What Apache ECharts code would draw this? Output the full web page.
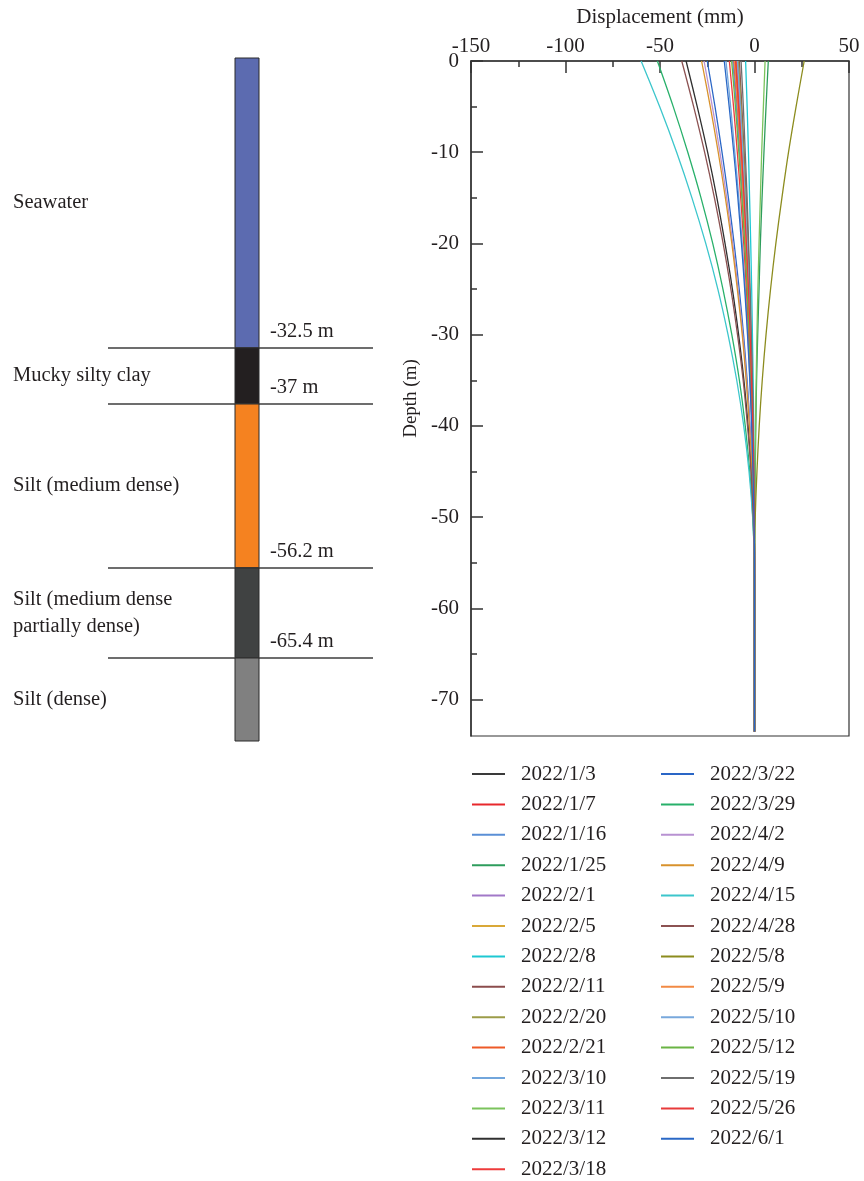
<!DOCTYPE html>
<html>
<head>
<meta charset="utf-8">
<title>Inclinometer displacement profiles</title>
<script src="https://cdn.jsdelivr.net/npm/echarts@6/dist/echarts.min.js"></script>
<style>
  html, body { margin: 0; padding: 0; background: #fff; }
  #chart { width: 864px; height: 1181px; }
</style>
</head>
<body>
<div id="chart"></div>
<script>
// Measurement depths (m)
const depths = [0, -5, -10, -15, -20, -25, -30, -35, -40, -45, -50, -55, -60, -65, -70, -73.5];

// Survey dates
const surveyDates = [
  '2022/1/3', '2022/1/7', '2022/1/16', '2022/1/25', '2022/2/1', '2022/2/5', '2022/2/8',
  '2022/2/11', '2022/2/20', '2022/2/21', '2022/3/10', '2022/3/11', '2022/3/12', '2022/3/18',
  '2022/3/22', '2022/3/29', '2022/4/2', '2022/4/9', '2022/4/15', '2022/4/28', '2022/5/8',
  '2022/5/9', '2022/5/10', '2022/5/12', '2022/5/19', '2022/5/26', '2022/6/1'
];

// Horizontal displacement (mm) at each depth, one array per survey
const disp_0103 = [-8.9, -7.4, -6.1, -4.9, -3.8, -2.9, -2.1, -1.4, -0.8, -0.4, -0.2, 0, 0, 0, 0, 0];
const disp_0107 = [-11.0, -9.2, -7.5, -6.1, -4.7, -3.6, -2.6, -1.7, -1.0, -0.5, -0.2, 0, 0, 0, 0, 0];
const disp_0116 = [-11.5, -9.6, -7.9, -6.3, -4.9, -3.7, -2.7, -1.8, -1.1, -0.6, -0.2, 0, 0, 0, 0, 0];
const disp_0125 = [7.3, 6.1, 5.0, 4.0, 3.1, 2.4, 1.7, 1.1, 0.7, 0.4, 0.1, 0, 0, 0, 0, 0];
const disp_0201 = [-9.5, -7.9, -6.5, -5.2, -4.1, -3.1, -2.2, -1.5, -0.9, -0.5, -0.2, 0, 0, 0, 0, 0];
const disp_0205 = [-10.2, -8.5, -7.0, -5.6, -4.4, -3.3, -2.4, -1.6, -1.0, -0.5, -0.2, 0, 0, 0, 0, 0];
const disp_0208 = [-4.7, -3.9, -3.2, -2.6, -2.0, -1.5, -1.1, -0.7, -0.4, -0.2, -0.1, 0, 0, 0, 0, 0];
const disp_0211 = [-8.0, -6.7, -5.5, -4.4, -3.4, -2.6, -1.9, -1.2, -0.8, -0.4, -0.1, 0, 0, 0, 0, 0];
const disp_0220 = [-8.5, -7.1, -5.8, -4.7, -3.7, -2.8, -2.0, -1.3, -0.8, -0.4, -0.1, 0, 0, 0, 0, 0];
const disp_0221 = [-9.8, -8.2, -6.7, -5.4, -4.2, -3.2, -2.3, -1.5, -0.9, -0.5, -0.2, 0, 0, 0, 0, 0];
const disp_0310 = [-15.1, -12.6, -10.4, -8.3, -6.5, -4.9, -3.5, -2.4, -1.4, -0.7, -0.3, 0, 0, 0, 0, 0];
const disp_0311 = [5.6, 4.7, 3.8, 3.1, 2.4, 1.8, 1.3, 0.9, 0.5, 0.3, 0.1, 0, 0, 0, 0, 0];
const disp_0312 = [-36.2, -30.3, -24.8, -19.9, -15.6, -11.7, -8.4, -5.6, -3.4, -1.7, -0.6, -0.1, 0, 0, 0, 0];
const disp_0318 = [-13.3, -11.1, -9.1, -7.3, -5.7, -4.3, -3.1, -2.1, -1.3, -0.6, -0.2, 0, 0, 0, 0, 0];
const disp_0322 = [-25.0, -20.9, -17.2, -13.8, -10.8, -8.1, -5.8, -3.9, -2.4, -1.2, -0.4, 0, 0, 0, 0, 0];
const disp_0329 = [-51.4, -43.0, -35.3, -28.3, -22.1, -16.7, -12.0, -8.0, -4.9, -2.5, -0.9, -0.1, 0, 0, 0, 0];
const disp_0402 = [-26.7, -22.3, -18.3, -14.7, -11.5, -8.7, -6.2, -4.2, -2.5, -1.3, -0.5, 0, 0, 0, 0, 0];
const disp_0409 = [-28.0, -23.4, -19.2, -15.4, -12.0, -9.1, -6.5, -4.4, -2.7, -1.3, -0.5, 0, 0, 0, 0, 0];
const disp_0415 = [-60.0, -50.2, -41.2, -33.1, -25.8, -19.4, -14.0, -9.4, -5.7, -2.9, -1.0, -0.1, 0, 0, 0, 0];
const disp_0428 = [-38.5, -32.2, -26.4, -21.2, -16.6, -12.5, -9.0, -6.0, -3.7, -1.8, -0.7, -0.1, 0, 0, 0, 0];
const disp_0508 = [26.3, 22.0, 18.0, 14.5, 11.3, 8.5, 6.1, 4.1, 2.5, 1.3, 0.4, 0, 0, 0, 0, 0];
const disp_0509 = [-10.7, -8.9, -7.3, -5.9, -4.6, -3.5, -2.5, -1.7, -1.0, -0.5, -0.2, 0, 0, 0, 0, 0];
const disp_0510 = [-9.0, -7.5, -6.2, -5.0, -3.9, -2.9, -2.1, -1.4, -0.9, -0.4, -0.2, 0, 0, 0, 0, 0];
const disp_0512 = [-12.1, -10.1, -8.3, -6.7, -5.2, -3.9, -2.8, -1.9, -1.1, -0.6, -0.2, 0, 0, 0, 0, 0];
const disp_0519 = [-7.1, -5.9, -4.9, -3.9, -3.1, -2.3, -1.7, -1.1, -0.7, -0.3, -0.1, 0, 0, 0, 0, 0];
const disp_0526 = [-10.0, -8.4, -6.9, -5.5, -4.3, -3.2, -2.3, -1.6, -0.9, -0.5, -0.2, 0, 0, 0, 0, 0];
const disp_0601 = [-16.0, -13.4, -11.0, -8.8, -6.9, -5.2, -3.7, -2.5, -1.5, -0.8, -0.3, 0, 0, 0, 0, 0];

const displacementSets = [
  disp_0103, disp_0107, disp_0116, disp_0125, disp_0201, disp_0205, disp_0208,
  disp_0211, disp_0220, disp_0221, disp_0310, disp_0311, disp_0312, disp_0318,
  disp_0322, disp_0329, disp_0402, disp_0409, disp_0415, disp_0428, disp_0508,
  disp_0509, disp_0510, disp_0512, disp_0519, disp_0526, disp_0601
];

const seriesColors = [
  '#3a3a3a', '#e8282c', '#5a8fd6', '#2e9d5c', '#a178c8', '#d9a838', '#1ec8d2',
  '#8b4c4c', '#9c9c48', '#ee5a28', '#72a6dc', '#7bc35c', '#303030', '#ee3b3b',
  '#2a66c6', '#28b06a', '#b892d2', '#d8922c', '#3cc6cc', '#8c5252', '#8c8c1e',
  '#f28a44', '#78a8dc', '#6ab444', '#6e6e6e', '#e83a3a', '#2a68c6'
];

// Axis tick labels
const xTickValues = [-150, -100, -50, 0, 50];
const yLabelValues = [0, -10, -20, -30, -40, -50, -60, -70];
const yMinorValues = [-5, -15, -25, -35, -45, -55, -65];

// Soil column (schematic, not to depth scale)
const layerNames = ['Seawater', 'Mucky silty clay', 'Silt (medium dense)',
                    'Silt (medium dense\npartially dense)', 'Silt (dense)'];
const layerBottomLabels = ['-32.5 m', '-37 m', '-56.2 m', '-65.4 m', ''];
const layerColors = ['#5c6bb0', '#231f20', '#f58220', '#404242', '#808080'];
const layerDrawnThickness = [29.0, 5.6, 16.4, 9.0, 8.3];

const FONT = '"Liberation Serif", "DejaVu Serif", serif';
const INK = '#231f20';

// Cumulative schematic positions of each layer
const layerRows = [];
let acc = 0;
layerDrawnThickness.forEach((t, i) => {
  layerRows.push([acc, acc + t, i]);
  acc += t;
});
const columnTotal = acc;

const lineSeries = surveyDates.map((name, i) => ({
  name: name,
  type: 'line',
  xAxisIndex: 0,
  yAxisIndex: 0,
  symbol: 'none',
  showSymbol: false,
  smooth: 0.35,
  color: seriesColors[i],
  itemStyle: { color: seriesColors[i] },
  lineStyle: { width: 1.3, color: seriesColors[i] },
  data: displacementSets[i].map((v, k) => [v, depths[k]]),
  z: 3
}));

const legendCommon = {
  orient: 'vertical',
  top: 763.5,
  padding: 0,
  icon: 'rect',
  itemWidth: 33, itemHeight: 2, itemGap: 9.4,
  textStyle: { fontFamily: FONT, fontSize: 21, lineHeight: 21, color: INK,
               padding: [0, 0, 0, 11] },
  selectedMode: false
};

const chart = echarts.init(document.getElementById('chart'), null, { renderer: 'canvas' });

const option = {
  backgroundColor: '#ffffff',
  animation: false,
  textStyle: { fontFamily: FONT, color: INK },
  grid: [
    {
      left: 471, top: 61, width: 378, height: 675,
      outerBoundsMode: 'none', containLabel: false,
      show: true, borderColor: '#333', borderWidth: 1.2, backgroundColor: 'transparent'
    },
    { left: 108, top: 58, width: 265, height: 683, outerBoundsMode: 'none', containLabel: false }
  ],
  xAxis: [
    {
      gridIndex: 0, type: 'value', position: 'top',
      min: -150, max: 50, interval: 50,
      name: 'Displacement (mm)', nameLocation: 'middle', nameGap: 33,
      nameTextStyle: { fontFamily: FONT, fontSize: 21, color: INK },
      axisLine: { show: true, onZero: false, lineStyle: { color: '#333', width: 1.5 } },
      axisTick: { show: true, inside: true, length: 12, lineStyle: { color: '#333', width: 1.5 } },
      minorTick: { show: true, splitNumber: 2, length: 6, lineStyle: { color: '#333', width: 1.5 } },
      axisLabel: { margin: 4, fontFamily: FONT, fontSize: 21, color: INK,
                   customValues: xTickValues },
      splitLine: { show: false }
    },
    { gridIndex: 1, type: 'value', min: 0, max: 1, show: false }
  ],
  yAxis: [
    {
      gridIndex: 0, type: 'value', min: -74, max: 0, position: 'left',
      name: 'Depth (m)', nameLocation: 'middle', nameGap: 50,
      nameTextStyle: { fontFamily: FONT, fontSize: 19, color: INK },
      axisLine: { show: true, onZero: false, lineStyle: { color: '#333', width: 1.5 } },
      axisTick: { show: true, inside: true, length: 12, customValues: yLabelValues,
                  lineStyle: { color: '#333', width: 1.5 } },
      axisLabel: { margin: 12, fontFamily: FONT, fontSize: 21, color: INK,
                   customValues: yLabelValues },
      splitLine: { show: false }
    },
    {
      // minor ticks at the 5 m marks
      gridIndex: 0, type: 'value', min: -74, max: 0, position: 'left', offset: 0,
      axisLine: { show: false, onZero: false },
      axisTick: { show: true, inside: true, length: 6, customValues: yMinorValues,
                  lineStyle: { color: '#333', width: 1.5 } },
      axisLabel: { show: false },
      splitLine: { show: false }
    },
    { gridIndex: 1, type: 'value', min: 0, max: columnTotal, inverse: true, show: false }
  ],
  legend: [
    Object.assign({}, legendCommon, { left: 472, data: surveyDates.slice(0, 14) }),
    Object.assign({}, legendCommon, { left: 661, data: surveyDates.slice(14) })
  ],
  series: lineSeries.concat([
    {
      type: 'custom',
      name: 'soil column',
      xAxisIndex: 1,
      yAxisIndex: 2,
      data: layerRows,
      silent: true,
      renderItem: function (params, api) {
        const i = api.value(2);
        const topY = api.coord([0, api.value(0)])[1];
        const botY = api.coord([0, api.value(1)])[1];
        const cs = params.coordSys;
        const colX = cs.x + 127;
        const colW = 24;
        const children = [
          {
            type: 'rect',
            shape: { x: colX, y: topY, width: colW, height: botY - topY },
            style: { fill: layerColors[i], stroke: '#2b2b2b', lineWidth: 1 }
          },
          {
            type: 'text',
            style: {
              x: 13, y: (topY + botY) / 2,
              text: layerNames[i],
              fontFamily: FONT, fontSize: 20.5, lineHeight: 27,
              fill: INK, align: 'left', verticalAlign: 'middle'
            }
          }
        ];
        if (i < layerRows.length - 1) {
          children.push({
            type: 'line',
            shape: { x1: cs.x, y1: botY, x2: cs.x + cs.width, y2: botY },
            style: { stroke: '#3d3d3d', lineWidth: 1.5 }
          });
          children.push({
            type: 'text',
            style: {
              x: colX + colW + 11, y: botY - 16,
              text: layerBottomLabels[i],
              fontFamily: FONT, fontSize: 20.5,
              fill: INK, align: 'left', verticalAlign: 'middle'
            }
          });
        }
        return { type: 'group', children: children };
      },
      z: 2
    }
  ])
};

chart.setOption(option);
</script>
</body>
</html>
